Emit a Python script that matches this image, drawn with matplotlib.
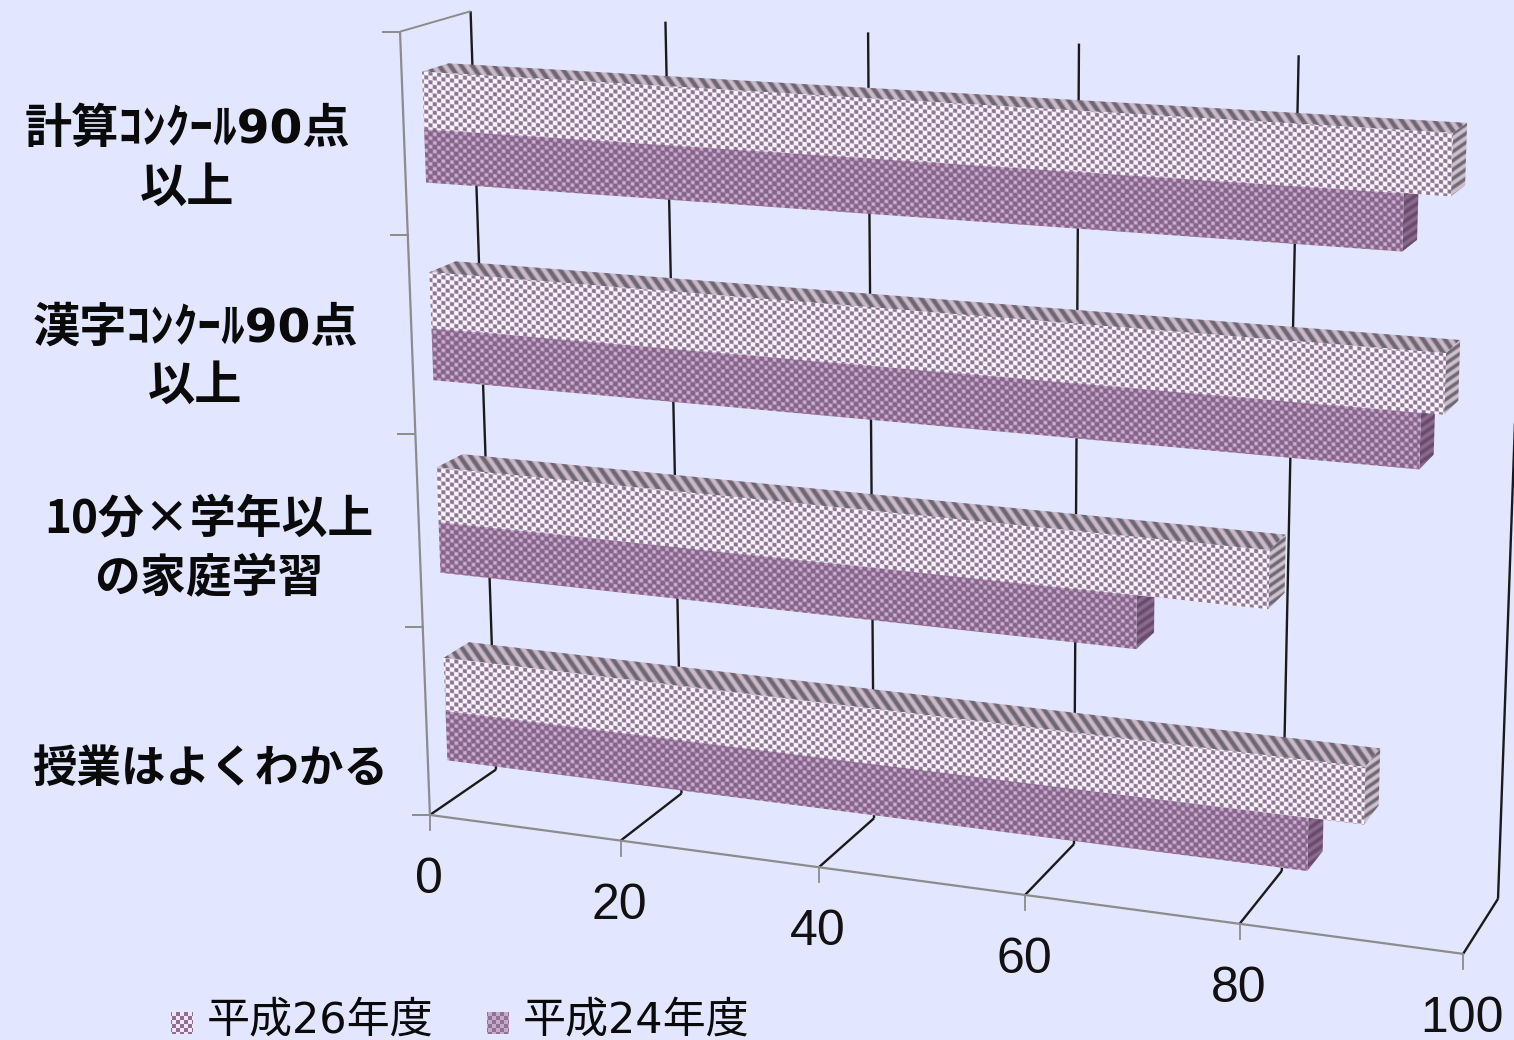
import numpy as np
import matplotlib
matplotlib.use("Agg")
import matplotlib.pyplot as plt
from matplotlib.patches import Polygon

# ---- data ----
categories = ["授業はよくわかる", "10分×学年以上\nの家庭学習", "漢字ｺﾝｸｰﾙ90点\n以上", "計算ｺﾝｸｰﾙ90点\n以上"]
series_names = ["平成26年度", "平成24年度"]
values_h26 = [90, 81, 96, 96]
values_h24 = [85, 69, 94, 92]
x_ticks = [0, 20, 40, 60, 80, 100]

# ---- styles ----
BG = "#E2E7FF"
GRID = "#1a1a1a"
AXIS = "#8c8c8c"
FONT = ["Noto Sans CJK JP", "DejaVu Sans"]
FONT_DIGITS = ["DejaVu Sans", "Noto Sans CJK JP"]
DEPTH_F, DEPTH_B = 0.28, 0.66
Z_LOW, Z_MID, Z_TOP = 0.225, 0.49, 0.775

# ---- camera calibration: (value, depth, height) -> pixel ----
calib = [
    (0,0,0,432,815),(0,0,0,432,815),(0,0,0,432,815),(20,0,0,622,842),(40,0,0,820,867),(60,0,0,1025,893),(80,0,0,1240,925),(100,0,0,1462,955),
    (0,0,1,414,625),(0,0,2,411,433),(0,0,3,407,235),(0,0,4,402,32),(0,0,4,402,32),(0,0,4,402,32),
    (0,1,4,470,13),(20,1,4,665,20),(40,1,4,867,33),(60,1,4,1079,43),(80,1,4,1300,55),
    (0,1,0,497,770),(20,1,0,681,795),(40,1,0,875,817),(60,1,0,1075,843),(80,1,0,1280,870),(100,1,0,1498,900),
]
A = []
for X, Y, Z, u, v in calib:
    p = [X / 100, Y, Z / 4, 1]
    A.append(p + [0, 0, 0, 0] + [-u * c for c in p])
    A.append([0, 0, 0, 0] + p + [-v * c for c in p])
CAM = np.linalg.svd(np.array(A, float))[2][-1].reshape(3, 4)


def project(X, Y, Z):
    h = CAM @ np.array([X / 100, Y, Z / 4, 1.0])
    return h[0] / h[2], h[1] / h[2]


fig = plt.figure(figsize=(15.14, 10.40), dpi=100, facecolor=BG)
ax = fig.add_axes([0, 0, 1, 1])
ax.set_xlim(0, 1514)
ax.set_ylim(1040, 0)
ax.axis("off")

# ---- textures (pixel space) ----
yy, xx = np.mgrid[0:1040, 0:1514]
checker = np.cos(2 * np.pi * xx / 8.6) * np.cos(2 * np.pi * (yy - xx * 0.12) / 8.6)


def ramp(t, c0, c1):
    c0 = np.array(matplotlib.colors.to_rgb(c0))
    c1 = np.array(matplotlib.colors.to_rgb(c1))
    t = np.clip(t, 0, 1)[..., None]
    return c0 * (1 - t) + c1 * t


tex_light = ramp(checker * 1.3 + 0.62, "#8a7893", "#fdf2fd")
tex_dark = ramp(checker * 1.0 + 0.27, "#85638a", "#cdaed0")
stripes = 0.5 + 0.5 * np.sin(2 * np.pi * (xx - yy * 0.7) / 11.0)
tex_top_light = ramp(stripes * 1.4 - 0.2, "#6f6674", "#c9b9c9")
tex_top_dark = ramp(stripes, "#6e4f72", "#a583a5")
stripes2 = 0.5 + 0.5 * np.sin(2 * np.pi * (yy + xx * 0.7) / 9.0)
tex_end_light = ramp(stripes2 * 1.3 - 0.1, "#6e6872", "#cfc0cf")
tex_end_dark = ramp(stripes2, "#644a68", "#8f6c92")


def tex_poly(points, tex, zorder):
    poly = Polygon(points, closed=True, transform=ax.transData, facecolor="none", edgecolor="none")
    ax.add_patch(poly)
    im = ax.imshow(tex, extent=(0, 1514, 1040, 0), interpolation="bilinear", zorder=zorder, aspect="auto")
    im.set_clip_path(poly)


def line3(p0, p1, color, lw, z=2):
    a, b = project(*p0), project(*p1)
    ax.plot([a[0], b[0]], [a[1], b[1]], color=color, lw=lw, zorder=z, solid_capstyle="butt")


# ---- walls and grid ----
for v in x_ticks:
    line3((v, 0, 0), (v, 1, 0), GRID, 1.7)
    line3((v, 1, 0), (v, 1, 4), GRID, 1.7)
    a = project(v, 0, 0)
    ax.plot([a[0], a[0]], [a[1], a[1] + 15], color=AXIS, lw=1.3, zorder=2)
    ax.text(a[0] - 1, a[1] + 65, str(v), ha="center", va="center", fontsize=36,
            family="Liberation Sans", color="#111111", zorder=6)
line3((0, 0, 0), (100, 0, 0), AXIS, 1.6, 3)
line3((0, 0, 0), (0, 0, 4), AXIS, 1.6, 3)
line3((0, 0, 4), (0, 1, 4), AXIS, 1.4, 3)
for k in range(5):
    a = project(0, 0, k)
    ax.plot([a[0] - 17, a[0]], [a[1], a[1]], color=AXIS, lw=1.4, zorder=3)


# ---- bars ----
def bar3(value, base, z0, z1, tf, tt, te, zo):
    fl, fr = (0, DEPTH_F), (value, DEPTH_F)
    bl, br = (0, DEPTH_B), (value, DEPTH_B)
    P = lambda xy, z: project(xy[0], xy[1], base + z)
    tex_poly([P(fl, z1), P(bl, z1), P(br, z1), P(fr, z1)], tt, zo)
    tex_poly([P(fr, z0), P(fr, z1), P(br, z1), P(br, z0)], te, zo)
    tex_poly([P(fl, z0), P(fl, z1), P(fr, z1), P(fr, z0)], tf, zo + 0.1)


for i in range(len(categories) - 1, -1, -1):
    bar3(values_h24[i], i, Z_LOW, Z_MID, tex_dark, tex_top_dark, tex_end_dark, 4 + (3 - i) * 0.3)
    bar3(values_h26[i], i, Z_MID, Z_TOP, tex_light, tex_top_light, tex_end_light, 4.15 + (3 - i) * 0.3)

# ---- category labels ----
label_x = [210, 209, 195, 187]
label_y = [769, 549, 358, 160]
label_font = [FONT, FONT, FONT_DIGITS, FONT_DIGITS]
label_size = [32, 33, 34, 34]
for i, name in enumerate(categories):
    ax.text(label_x[i], label_y[i], name, ha="center", va="center", fontsize=label_size[i], fontweight="bold",
            family=label_font[i], color="#0a0a0a", linespacing=1.38, zorder=6)

# ---- legend ----
leg_x = [171, 487]
tex_leg = [ramp(np.cos(np.pi * (xx // 4)) * np.cos(np.pi * (yy // 4)) * 0.6 + 0.55, "#8d6f96", "#f3e6f3"),
           ramp(np.cos(np.pi * (xx // 4)) * np.cos(np.pi * (yy // 4)) * -0.7 - 0.1, "#93709a", "#e6d4e6")]
for k, name in enumerate(series_names):
    s = 22
    tex_poly([(leg_x[k], 1012), (leg_x[k] + s, 1012), (leg_x[k] + s, 1034), (leg_x[k], 1034)], tex_leg[k], 5)
    ax.text(leg_x[k] + 36, 1020, name, ha="left", va="center", fontsize=31, family=FONT_DIGITS,
            color="#0a0a0a", zorder=6)

ax.set_xlim(0, 1514)
ax.set_ylim(1040, 0)
fig.savefig("out.png", dpi=100, facecolor=BG)
